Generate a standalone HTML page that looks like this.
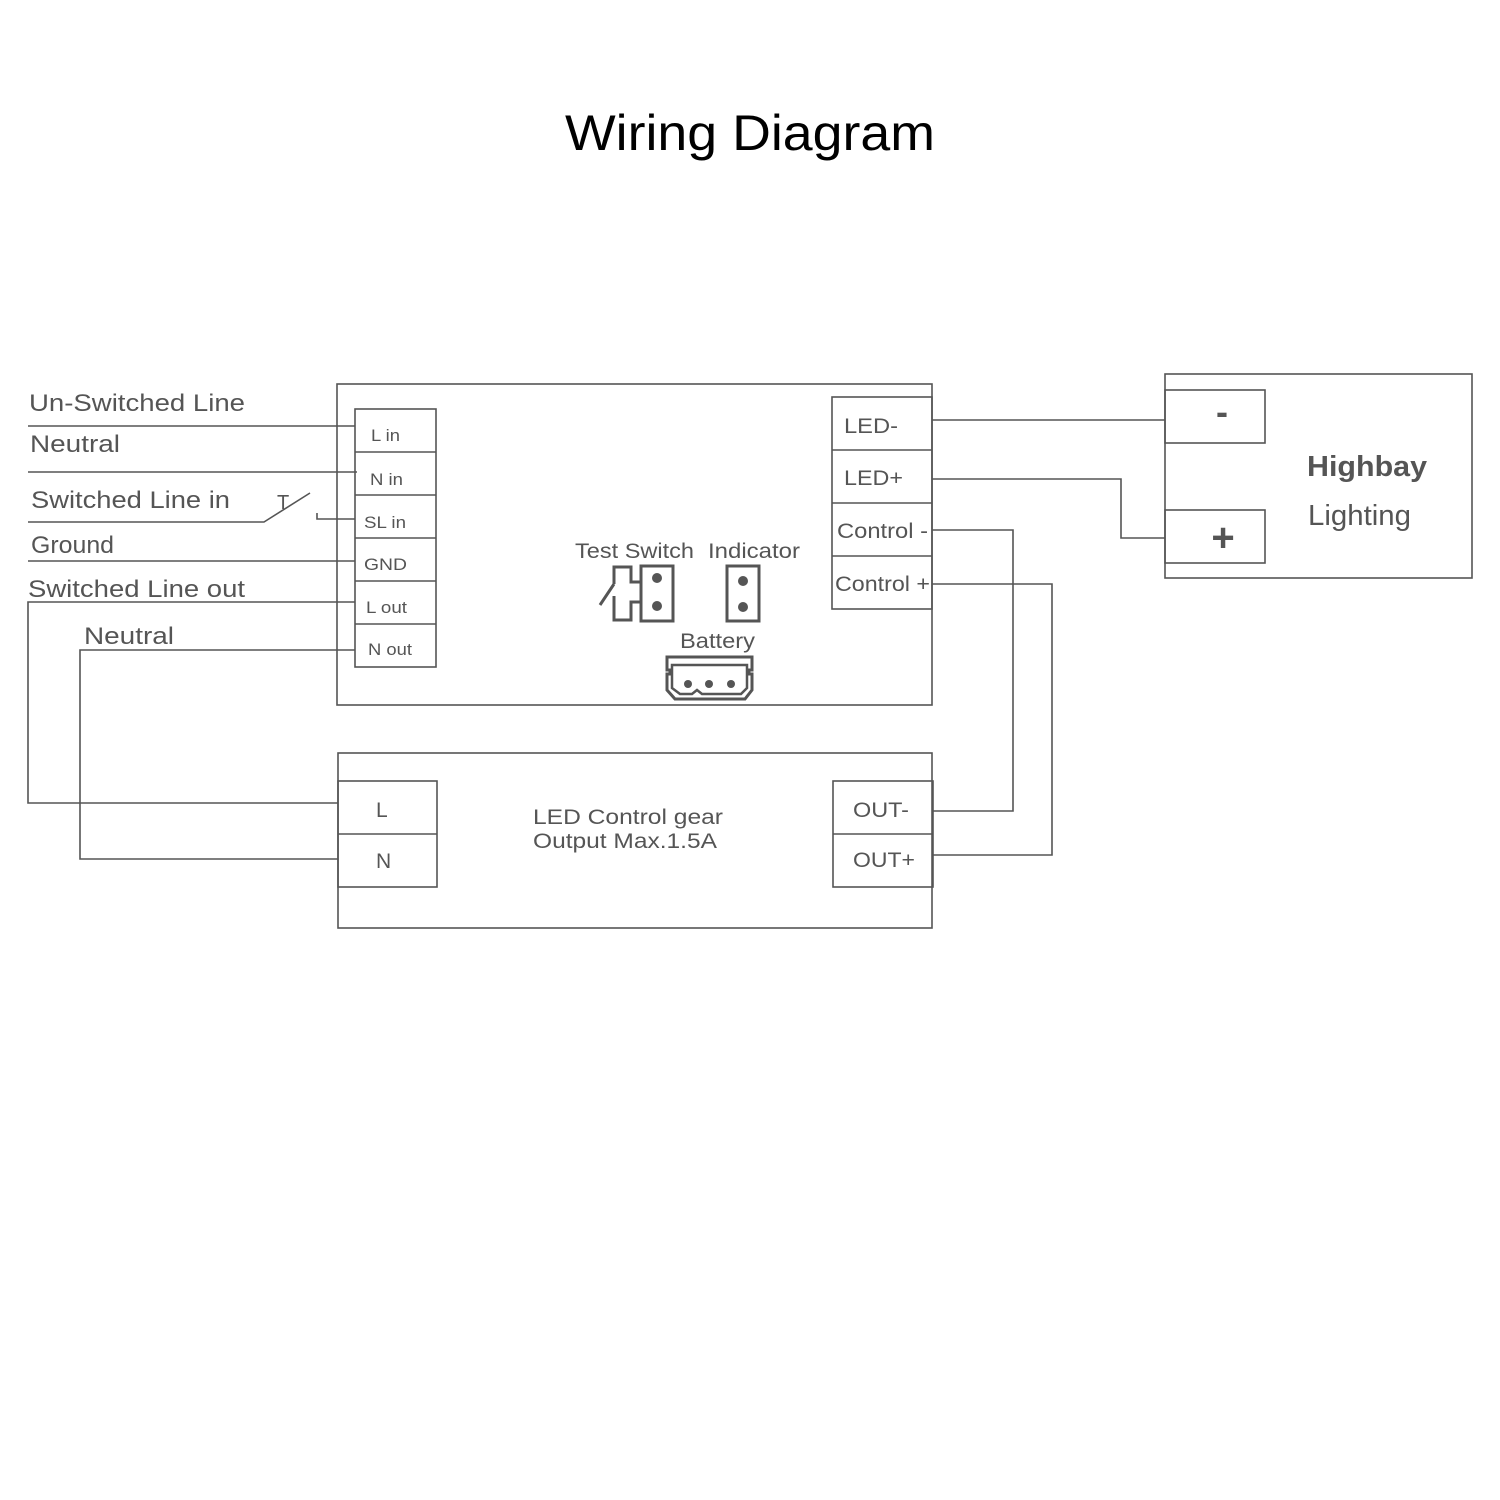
<!DOCTYPE html>
<html><head><meta charset="utf-8"><style>
html,body{margin:0;padding:0;background:#fff;}
svg{display:block}
text{font-family:"Liberation Sans",sans-serif;fill:#555;}
</style></head><body>
<svg width="1500" height="1500" viewBox="0 0 1500 1500" xmlns="http://www.w3.org/2000/svg">
<rect width="1500" height="1500" fill="#fff"/>
<text x="565" y="150" font-size="50" textLength="370" lengthAdjust="spacingAndGlyphs" style="fill:#000">Wiring Diagram</text>
<g fill="none" stroke="#555" stroke-width="1.6">
<rect x="337" y="384" width="595" height="321"/>
<rect x="355" y="409" width="81" height="258"/>
<path d="M355 452H436M355 495H436M355 538H436M355 581H436M355 624H436"/>
<rect x="832" y="397" width="100" height="212"/>
<path d="M832 450H932M832 503H932M832 556H932"/>
<path d="M28 426H355M28 472H357M28 522H264L310 493M317 513V519H355M28 561H355"/>
<path d="M355 602H28V803H338M355 650H80V859H338"/>
<path d="M932 420H1165M932 479H1121V538H1165M932 530H1013V811H933M932 584H1052V855H933"/>
<rect x="1165" y="374" width="307" height="204"/>
<rect x="1165" y="390" width="100" height="53"/>
<rect x="1165" y="510" width="100" height="53"/>
<rect x="338" y="753" width="594" height="175"/>
<rect x="338" y="781" width="99" height="106"/>
<path d="M338 834H437"/>
<rect x="833" y="781" width="100" height="106"/>
<path d="M833 834H933"/>
</g>
<g fill="none" stroke="#555" stroke-width="3">
<rect x="641" y="566" width="32" height="55"/>
<path d="M641 582H631V567H614V584M600 605L614 584M614 596V620H631V602H641"/>
<rect x="727" y="566" width="32" height="55"/>
<path d="M667 657H752V670H749V674H752V690L745 699H675L667 690V674H670V670H667Z"/>
<path d="M672 665H747V688L741 694H702L697 690L692 694H680L672 688Z" stroke-width="2.5"/>
</g>
<g fill="#555">
<circle cx="657" cy="578" r="5"/><circle cx="657" cy="606" r="5"/>
<circle cx="743" cy="581" r="5"/><circle cx="743" cy="607" r="5"/>
<circle cx="688" cy="684" r="4"/><circle cx="709" cy="684" r="4"/><circle cx="731" cy="684" r="4"/>
</g>
<g font-size="24">
<text x="29" y="411" textLength="216" lengthAdjust="spacingAndGlyphs">Un-Switched Line</text>
<text x="30" y="452" textLength="90" lengthAdjust="spacingAndGlyphs">Neutral</text>
<text x="31" y="508" textLength="199" lengthAdjust="spacingAndGlyphs">Switched Line in</text>
<text x="31" y="553" textLength="83" lengthAdjust="spacingAndGlyphs">Ground</text>
<text x="28" y="597" textLength="217" lengthAdjust="spacingAndGlyphs">Switched Line out</text>
<text x="84" y="644" textLength="90" lengthAdjust="spacingAndGlyphs">Neutral</text>
</g>
<text x="277" y="509" font-size="20">T</text>
<g font-size="17">
<text x="371" y="441" textLength="29" lengthAdjust="spacingAndGlyphs">L in</text>
<text x="370" y="485" textLength="33" lengthAdjust="spacingAndGlyphs">N in</text>
<text x="364" y="528" textLength="42" lengthAdjust="spacingAndGlyphs">SL in</text>
<text x="364" y="570" textLength="43" lengthAdjust="spacingAndGlyphs">GND</text>
<text x="366" y="613" textLength="41" lengthAdjust="spacingAndGlyphs">L out</text>
<text x="368" y="655" textLength="44" lengthAdjust="spacingAndGlyphs">N out</text>
</g>
<g font-size="21">
<text x="844" y="433" textLength="54" lengthAdjust="spacingAndGlyphs">LED-</text>
<text x="844" y="485" textLength="59" lengthAdjust="spacingAndGlyphs">LED+</text>
<text x="837" y="538" textLength="91" lengthAdjust="spacingAndGlyphs">Control -</text>
<text x="835" y="591" textLength="95" lengthAdjust="spacingAndGlyphs">Control +</text>
<text x="575" y="558" textLength="119" lengthAdjust="spacingAndGlyphs">Test Switch</text>
<text x="708" y="558" textLength="92" lengthAdjust="spacingAndGlyphs">Indicator</text>
<text x="680" y="648" textLength="75" lengthAdjust="spacingAndGlyphs">Battery</text>
<text x="853" y="817" textLength="56" lengthAdjust="spacingAndGlyphs">OUT-</text>
<text x="853" y="867" textLength="62" lengthAdjust="spacingAndGlyphs">OUT+</text>
<text x="376" y="817">L</text>
<text x="376" y="868">N</text>
<text x="533" y="824" textLength="190" lengthAdjust="spacingAndGlyphs">LED Control gear</text>
<text x="533" y="848" textLength="184" lengthAdjust="spacingAndGlyphs">Output Max.1.5A</text>
</g>
<text x="1307" y="476" font-size="29" font-weight="bold" textLength="120" lengthAdjust="spacingAndGlyphs">Highbay</text>
<text x="1308" y="525" font-size="29" textLength="103" lengthAdjust="spacingAndGlyphs">Lighting</text>
<text x="1222" y="424" font-size="36" font-weight="bold" text-anchor="middle">-</text>
<text x="1223" y="551" font-size="40" font-weight="bold" text-anchor="middle">+</text>
</svg>
</body></html>
